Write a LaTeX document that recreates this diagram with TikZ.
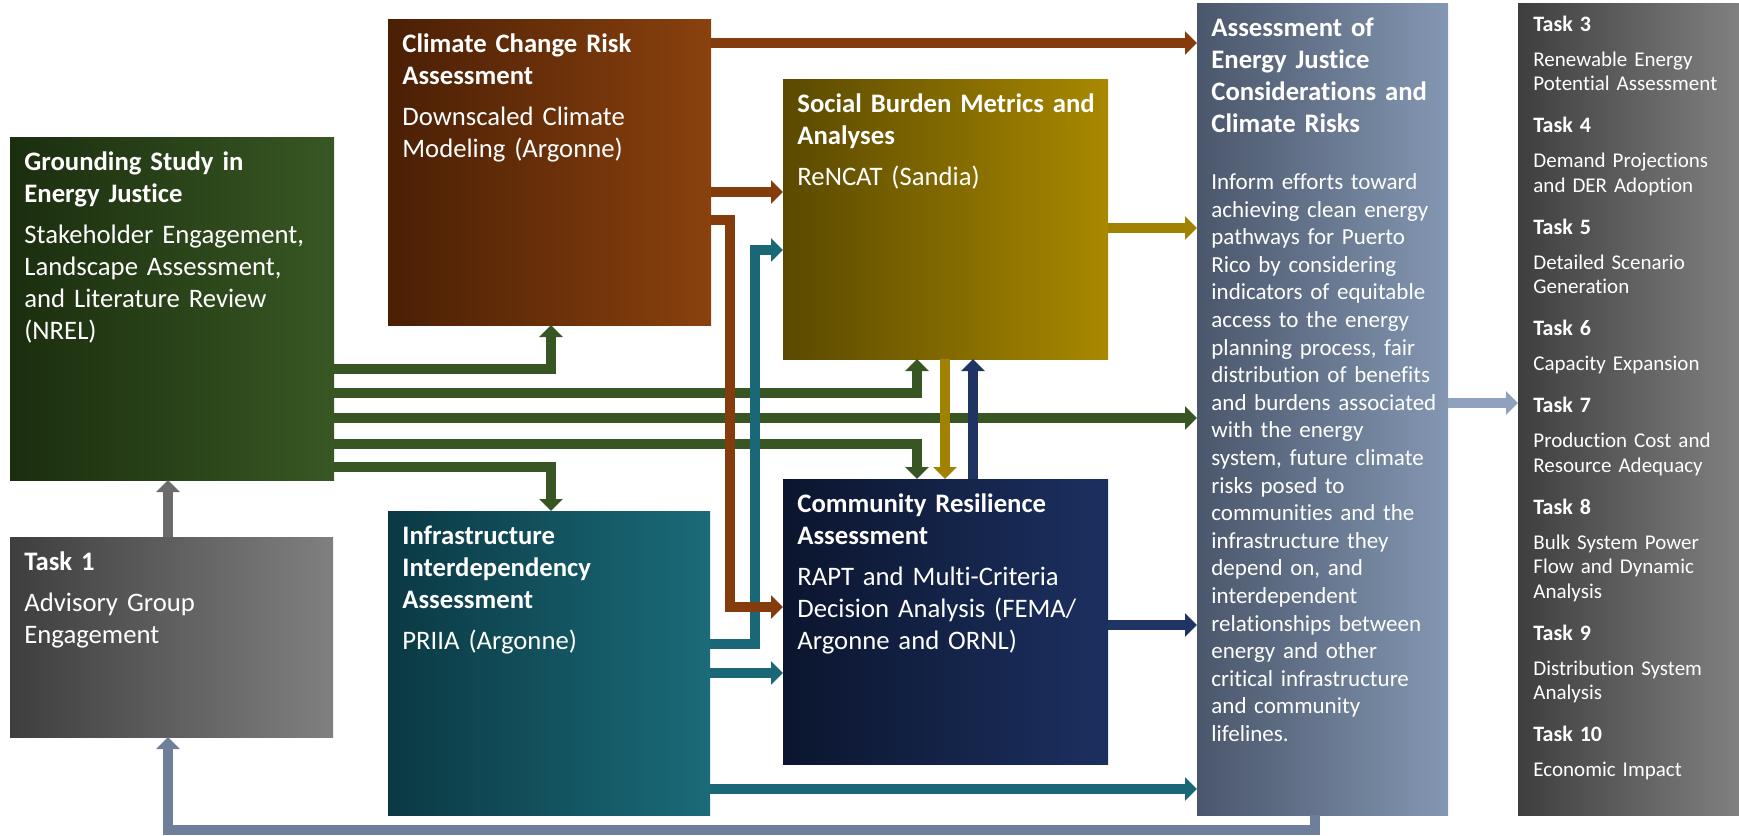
\documentclass[tikz,border=0pt]{standalone}
\usepackage{fontspec}
\setmainfont{Carlito}[Ligatures={NoCommon}]
\usetikzlibrary{arrows.meta,fit}

\definecolor{groundL}{HTML}{1B2E0F}
\definecolor{groundR}{HTML}{385723}
\definecolor{climL}{HTML}{4A1F05}
\definecolor{climR}{HTML}{8A410E}
\definecolor{socL}{HTML}{5A4900}
\definecolor{socR}{HTML}{A98900}
\definecolor{commL}{HTML}{0B152E}
\definecolor{commR}{HTML}{1C3060}
\definecolor{infraL}{HTML}{0A3943}
\definecolor{infraR}{HTML}{1B6B79}
\definecolor{assessL}{HTML}{4A566B}
\definecolor{assessR}{HTML}{8497B2}
\definecolor{taskL}{HTML}{3E3E3E}
\definecolor{taskR}{HTML}{808080}
\definecolor{brownA}{HTML}{843C0C}
\definecolor{greenA}{HTML}{375623}
\definecolor{goldA}{HTML}{A08200}
\definecolor{tealA}{HTML}{1A6877}
\definecolor{navyA}{HTML}{1F3462}
\definecolor{slateA}{HTML}{8FA1BC}
\definecolor{fbA}{HTML}{6E7F9C}
\definecolor{grayA}{HTML}{6B6B6B}

\newcommand{\tasktitle}[1]{{\fontsize{11}{12.25}\selectfont\bfseries #1}}

\tikzset{
  box/.style={inner sep=0pt, outer sep=0pt},
  boxtext/.style={anchor=north west, inner sep=0pt, text=white, align=left,
    text width=185pt, font=\fontsize{13.35}{16}\selectfont,
    execute at begin node={\noindent\rule{0pt}{12pt}}},
  flow/.style={line width=5pt, -{Triangle[width=11.5pt,length=6pt]}},
}

\begin{document}
\begin{tikzpicture}[x=0.5pt,y=-0.5pt]
  \useasboundingbox (0,0) rectangle (1739,835);

  \node[box, fit={(10,137) (334,480)}, left color=groundL, right color=groundR] (ground) {};
  \node[box, fit={(10,537) (333,737)}, left color=taskL, right color=taskR] (task1) {};
  \node[box, fit={(388,19) (711,325)}, left color=climL, right color=climR] (climate) {};
  \node[box, fit={(388,511) (710,815)}, left color=infraL, right color=infraR] (infra) {};
  \node[box, fit={(783,79) (1108,359)}, left color=socL, right color=socR] (social) {};
  \node[box, fit={(783,479) (1108,764)}, left color=commL, right color=commR] (comm) {};
  \node[box, fit={(1197,3) (1448,815)}, left color=assessL, right color=assessR] (assess) {};
  \node[box, fit={(1518,3) (1739,815)}, left color=taskL, right color=taskR] (tasks) {};

  \node[boxtext] (groundtxt) at ([shift={(14,9)}]ground.north west)
    {\textbf{Grounding Study in}\\\textbf{Energy Justice}\\[4.5pt]Stakeholder Engagement,\\Landscape Assessment,\\and Literature Review\\(NREL)};
  \node[boxtext] (task1txt) at ([shift={(14,9)}]task1.north west)
    {\textbf{Task 1}\\[4.5pt]Advisory Group\\Engagement};
  \node[boxtext] (climatetxt) at ([shift={(14,9)}]climate.north west)
    {\textbf{Climate Change Risk}\\\textbf{Assessment}\\[4.5pt]Downscaled Climate\\Modeling (Argonne)};
  \node[boxtext] (infratxt) at ([shift={(14,9)}]infra.north west)
    {\textbf{Infrastructure}\\\textbf{Interdependency}\\\textbf{Assessment}\\[4.5pt]PRIIA (Argonne)};
  \node[boxtext] (socialtxt) at ([shift={(14,9)}]social.north west)
    {\textbf{Social Burden Metrics and}\\\textbf{Analyses}\\[4.5pt]ReNCAT (Sandia)};
  \node[boxtext] (commtxt) at ([shift={(14,9)}]comm.north west)
    {\textbf{Community Resilience}\\\textbf{Assessment}\\[4.5pt]RAPT and Multi-Criteria\\Decision Analysis (FEMA/\\Argonne and ORNL)};
  \node[boxtext] (assesstitle) at ([shift={(14,9)}]assess.north west)
    {\textbf{Assessment of}\\\textbf{Energy Justice}\\\textbf{Considerations and}\\\textbf{Climate Risks}};
  \node[boxtext, font=\fontsize{11.5}{13.8}\selectfont] (assesstxt) at ([shift={(14,162)}]assess.north west)
    {Inform efforts toward\\achieving clean energy\\pathways for Puerto\\Rico by considering\\indicators of equitable\\access to the energy\\planning process, fair\\distribution of benefits\\and burdens associated\\with the energy\\system, future climate\\risks posed to\\communities and the\\infrastructure they\\depend on, and\\interdependent\\relationships between\\energy and other\\critical infrastructure\\and community\\lifelines.};
  \node[boxtext, text width=105pt, font=\fontsize{10.5}{12.25}\selectfont] (taskstxt) at ([shift={(15,4)}]tasks.north west)
    {\tasktitle{Task 3}\\[5.25pt]Renewable Energy\\Potential Assessment\\[8.75pt]
     \tasktitle{Task 4}\\[5.25pt]Demand Projections\\and DER Adoption\\[8.75pt]
     \tasktitle{Task 5}\\[5.25pt]Detailed Scenario\\Generation\\[8.75pt]
     \tasktitle{Task 6}\\[5.25pt]Capacity Expansion\\[8.75pt]
     \tasktitle{Task 7}\\[5.25pt]Production Cost and\\Resource Adequacy\\[8.75pt]
     \tasktitle{Task 8}\\[5.25pt]Bulk System Power\\Flow and Dynamic\\Analysis\\[8.75pt]
     \tasktitle{Task 9}\\[5.25pt]Distribution System\\Analysis\\[8.75pt]
     \tasktitle{Task 10}\\[5.25pt]Economic Impact};

  % grounding study feeds everything
  \draw[flow, greenA] (ground.east |- 0,369) -| (climate.south -| 551,0);
  \draw[flow, greenA] (ground.east |- 0,393) -| (social.south -| 917,0);
  \draw[flow, greenA] (ground.east |- 0,418) -- (assess.west |- 0,418);
  \draw[flow, greenA] (ground.east |- 0,444) -| (comm.north -| 917,0);
  \draw[flow, greenA] (ground.east |- 0,467) -| (infra.north -| 551,0);

  \draw[flow, tealA] (infra.east |- 0,644) -| (755,250) -- (social.west |- 0,250);
  \draw[flow, tealA] (infra.east |- 0,673) -- (comm.west |- 0,673);
  \draw[flow, tealA] (infra.east |- 0,789) -- (assess.west |- 0,789);

  \draw[flow, brownA] (climate.east |- 0,43) -- (assess.west |- 0,43);
  \draw[flow, brownA] (climate.east |- 0,192) -- (social.west |- 0,192);
  \draw[flow, brownA] (climate.east |- 0,220) -| (730,607) -- (comm.west |- 0,607);

  \draw[flow, goldA] (social.east |- 0,228) -- (assess.west |- 0,228);
  \draw[flow, goldA] (social.south -| 945,0) -- (comm.north -| 945,0);
  \draw[flow, navyA] (comm.north -| 973,0) -- (social.south -| 973,0);
  \draw[flow, navyA] (comm.east |- 0,625) -- (assess.west |- 0,625);

  \draw[flow, slateA] (assess.east |- 0,403) -- (tasks.west |- 0,403);
  \draw[flow, fbA] (assess.south -| 1315,0) |- (168,830) -- (task1.south -| 168,0);
  \draw[flow, grayA] (task1.north -| 168,0) -- (ground.south -| 168,0);
\end{tikzpicture}
\end{document}
